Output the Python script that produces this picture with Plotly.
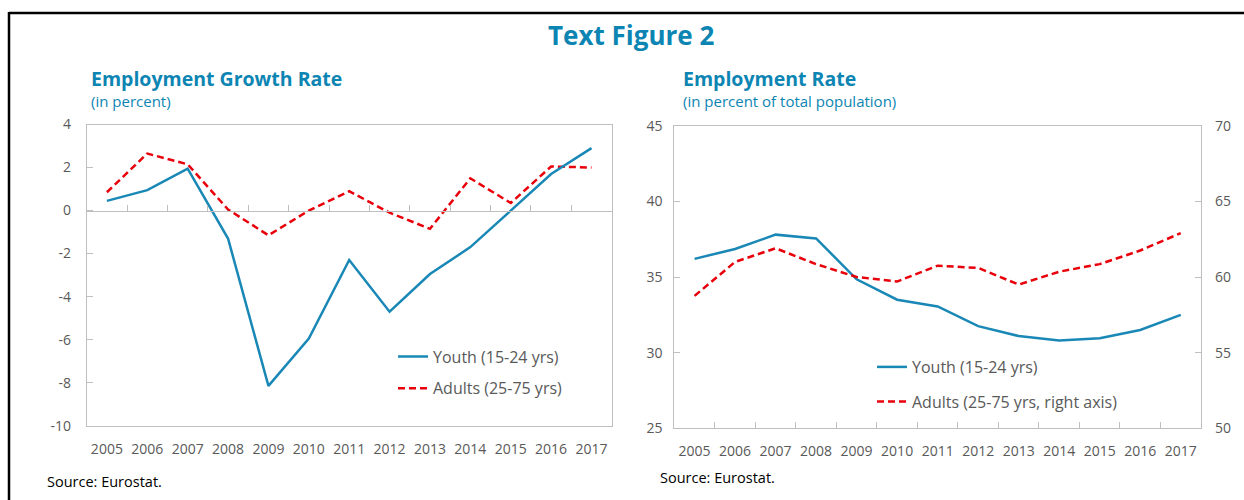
import plotly.graph_objects as go

years = [str(y) for y in range(2005, 2018)]

# Employment growth rate (percent)
growth_youth = [0.45, 0.95, 1.95, -1.3, -8.15, -5.95, -2.3, -4.7, -2.95, -1.7, 0.0, 1.7, 2.9]
growth_adults = [0.85, 2.65, 2.15, 0.05, -1.15, 0.0, 0.9, -0.1, -0.85, 1.5, 0.35, 2.05, 2.0]
growth_ticks = [-10, -8, -6, -4, -2, 0, 2, 4]
growth_tick_labels = ["-10", "-8", "-6", "-4", "-2", "0", "2", "4"]

# Employment rate (percent of total population)
rate_youth = [36.2, 36.85, 37.8, 37.55, 34.85, 33.5, 33.05, 31.75, 31.1, 30.8, 30.95, 31.5, 32.5]
rate_adults = [58.75, 61.0, 61.9, 60.85, 60.0, 59.7, 60.75, 60.6, 59.5, 60.35, 60.85, 61.75, 62.9]

W, H = 1244, 500
BLUE = "#1A88B6"
RED = "#E8000B"
TITLE = "#0C85B3"
GRID = "#BFBFBF"
TXT = "#595959"
FONT = "Open Sans"


def px(x):
    return x / W


def py(y):
    return 1 - y / H


L_dom = [px(86.7), px(611.7)]
L_y = [py(425.7), py(124.5)]
R_dom = [px(674.3), px(1201)]
R_y = [py(428.3), py(125.7)]

fig = go.Figure()

fig.add_trace(go.Scatter(x=years, y=growth_adults, xaxis="x", yaxis="y", mode="lines",
                         name="Adults (25-75 yrs)", legend="legend2",
                         line=dict(color=RED, width=2.5, dash="7px,4px")))
fig.add_trace(go.Scatter(x=years, y=growth_youth, xaxis="x3", yaxis="y", mode="lines",
                         name="Youth (15-24 yrs)", legend="legend",
                         line=dict(color=BLUE, width=2.5)))
fig.add_trace(go.Scatter(x=years, y=rate_youth, xaxis="x2", yaxis="y2", mode="lines",
                         name="Youth (15-24 yrs)", legend="legend3",
                         line=dict(color=BLUE, width=2.5)))
fig.add_trace(go.Scatter(x=years, y=rate_adults, xaxis="x2", yaxis="y3", mode="lines",
                         name="Adults (25-75 yrs, right axis)", legend="legend4",
                         line=dict(color=RED, width=2.5, dash="7px,4px")))

tickfont = dict(family=FONT, size=14, color=TXT)
yrange_L = [-10, 4]
zero_pos = L_y[0] + (0 - yrange_L[0]) / (yrange_L[1] - yrange_L[0]) * (L_y[1] - L_y[0])

common_x = dict(type="category", categoryorder="array", categoryarray=years,
                range=[-0.5, len(years) - 0.5], showgrid=False, zeroline=False,
                fixedrange=True, tickangle=0, automargin=False)

fig.update_layout(
    width=W, height=H,
    margin=dict(l=0, r=0, t=0, b=0, pad=0, autoexpand=False),
    paper_bgcolor="white", plot_bgcolor="rgba(0,0,0,0)",
    font=dict(family=FONT, size=14, color=TXT),
    xaxis=dict(domain=L_dom, anchor="y", showline=True, linecolor=GRID, linewidth=1,
               mirror=True, ticks="", tickfont=tickfont, ticklabelstandoff=10, **common_x),
    xaxis3=dict(domain=L_dom, anchor="free", position=zero_pos, overlaying="x",
                showline=True, linecolor=GRID, linewidth=1, ticks="inside", ticklen=6,
                tickcolor=GRID, tickson="boundaries", showticklabels=False, **common_x),
    yaxis=dict(domain=L_y, anchor="x", range=yrange_L, tickmode="array",
               tickvals=growth_ticks, ticktext=growth_tick_labels, showgrid=False,
               zeroline=False, showline=True, linecolor=GRID, mirror=True,
               ticks="inside", ticklen=6, tickcolor=GRID, tickfont=tickfont,
               ticklabelstandoff=12, automargin=False),
    xaxis2=dict(domain=R_dom, anchor="y2", showline=True, linecolor=GRID, linewidth=1,
                mirror=True, ticks="inside", ticklen=6, tickcolor=GRID,
                tickson="boundaries", tickfont=tickfont, ticklabelstandoff=10, **common_x),
    yaxis2=dict(domain=R_y, anchor="x2", range=[25, 45], dtick=5, showgrid=False,
                zeroline=False, showline=True, linecolor=GRID, mirror=True,
                ticks="inside", ticklen=6, tickcolor=GRID, tickfont=tickfont,
                ticklabelstandoff=8, automargin=False),
    yaxis3=dict(domain=R_y, anchor="x2", overlaying="y2", side="right", range=[50, 70],
                dtick=5, showgrid=False, zeroline=False, showline=False,
                ticks="inside", ticklen=6, tickcolor=GRID, tickfont=tickfont,
                ticklabelstandoff=13, automargin=False),
    showlegend=True,
)

leg = dict(bgcolor="rgba(0,0,0,0)", font=dict(family=FONT, size=16, color=TXT),
           xanchor="left", yanchor="middle", itemwidth=30, borderwidth=0)
fig.update_layout(
    legend=dict(x=px(393), y=py(356.7), **leg),
    legend2=dict(x=px(393), y=py(388.3), **leg),
    legend3=dict(x=px(872), y=py(367), **leg),
    legend4=dict(x=px(872), y=py(401.7), **leg),
)

ann = [
    dict(text="<b>Text Figure 2</b>", x=px(631), y=py(35), xanchor="center",
         font=dict(size=26, color=TITLE)),
    dict(text="<b>Employment Growth Rate</b>", x=px(89), y=py(78), xanchor="left",
         font=dict(size=19.5, color=TITLE)),
    dict(text="(in percent)", x=px(89), y=py(101), xanchor="left",
         font=dict(size=15, color=TITLE)),
    dict(text="<b>Employment Rate</b>", x=px(681), y=py(78), xanchor="left",
         font=dict(size=19.5, color=TITLE)),
    dict(text="(in percent of total population)", x=px(681), y=py(101), xanchor="left",
         font=dict(size=15, color=TITLE)),
    dict(text="Source: Eurostat.", x=px(45), y=py(481), xanchor="left",
         font=dict(size=14.5, color="black")),
    dict(text="Source: Eurostat.", x=px(658), y=py(477), xanchor="left",
         font=dict(size=14.5, color="black")),
]
for a in ann:
    a.update(xref="paper", yref="paper", yanchor="middle", showarrow=False)
    a["font"]["family"] = FONT
fig.update_layout(annotations=ann)

fig.update_layout(shapes=[
    dict(type="line", xref="paper", yref="paper", x0=px(9), x1=1.0, y0=py(13), y1=py(13),
         line=dict(color="black", width=2.5)),
    dict(type="line", xref="paper", yref="paper", x0=px(9), x1=px(9), y0=py(12), y1=0,
         line=dict(color="black", width=2.5)),
])

post = (
    "var d=document.getElementById('{plot_id}');"
    "d.style.position='fixed';d.style.top='0px';d.style.left='0px';"
    "document.documentElement.style.margin='0';document.documentElement.style.padding='0';"
    "document.documentElement.style.overflow='hidden';"
    "document.body.style.margin='0';document.body.style.padding='0';"
    "document.body.style.height='500px';document.body.style.overflow='hidden';"
)

fig.write_html("out.html", config={"displayModeBar": False}, post_script=post)
